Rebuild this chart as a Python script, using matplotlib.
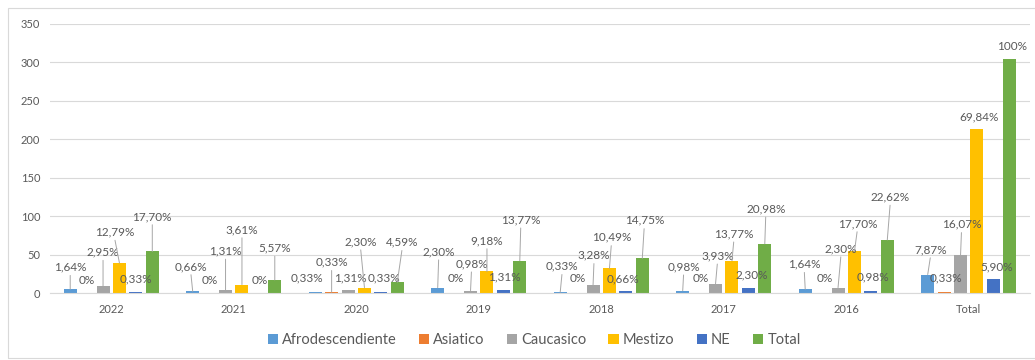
import numpy as np
import matplotlib.pyplot as plt
from matplotlib.patches import Rectangle

plt.rcParams['font.family'] = ['Lato', 'DejaVu Sans']

categories = ['2022', '2021', '2020', '2019', '2018', '2017', '2016', 'Total']
afro = [5, 2, 1, 7, 1, 3, 5, 24]
asiatico = [0, 0, 1, 0, 0, 0, 0, 1]
caucasico = [9, 4, 4, 3, 10, 12, 7, 49]
mestizo = [39, 11, 7, 28, 32, 42, 54, 213]
ne = [1, 0, 1, 4, 2, 7, 3, 18]
total = [54, 17, 14, 42, 45, 64, 69, 305]

series_names = ['Afrodescendiente', 'Asiatico', 'Caucasico', 'Mestizo', 'NE', 'Total']
series_vals = [afro, asiatico, caucasico, mestizo, ne, total]
colors = ['#5B9BD5', '#ED7D31', '#A5A5A5', '#FFC000', '#4472C4', '#70AD47']

# label placement (dx, dy in pixels from bar top, leader line yes/no)
label_pos = [
    [(0, 22, 1), (-2, 25, 1), (-8, 14, 0), (1, 36, 1), (2, 26, 1), (1, 24, 1), (-1, 25, 1), (3, 25, 1)],
    [(0, 13, 0), (1, 13, 0), (0, 30, 1), (2, 14, 0), (1, 14, 0), (2, 14, 0), (3, 14, 0), (2, 14, 0)],
    [(0, 34, 1), (0, 39, 1), (2, 12, 0), (1, 27, 1), (1, 30, 1), (2, 28, 1), (3, 39, 1), (1, 31, 1)],
    [(-5, 31, 1), (0, 55, 1), (-4, 46, 1), (0, 31, 1), (2, 31, 1), (2, 27, 1), (3, 28, 1), (2, 12, 0)],
    [(0, 13, 0), (1, 13, 0), (3, 14, 0), (1, 13, 0), (-3, 13, 0), (3, 13, 0), (2, 14, 0), (3, 12, 0)],
    [(0, 35, 1), (0, 32, 1), (5, 40, 1), (1, 41, 1), (2, 38, 1), (1, 35, 1), (3, 43, 1), (2, 12, 0)],
]

grand = total[-1]


def fmt(v):
    if v == 0:
        return '0%'
    p = v / grand * 100
    if round(p, 2) == 100:
        return '100%'
    return f'{p:.2f}'.replace('.', ',') + '%'


fig = plt.figure(figsize=(10.35, 3.6), dpi=100)
ax = fig.add_axes([50 / 1035, 67 / 360, 980 / 1035, 269 / 360])

x = np.arange(len(categories))
slot = 0.134
width = 0.106
txt_color = '#595959'

for i, (name, vals, c) in enumerate(zip(series_names, series_vals, colors)):
    xs = x + (i - 2.5) * slot
    ax.bar(xs, vals, width, color=c, label=name, zorder=2)
    for j, (xx, v) in enumerate(zip(xs, vals)):
        dx, dy, lead = label_pos[i][j]
        props = None
        if lead:
            props = dict(arrowstyle='-', color='#A6A6A6', lw=0.7,
                         shrinkA=0, shrinkB=0, relpos=(0.5, 0))
        ax.annotate(fmt(v), xy=(xx, v), xytext=(dx, dy), textcoords='offset pixels',
                    ha='center', va='center', fontsize=8.5, color=txt_color,
                    arrowprops=props, zorder=3)

ax.set_xlim(-0.5, len(categories) - 0.5)
ax.set_ylim(0, 350)
ax.set_yticks(np.arange(0, 351, 50))
ax.set_xticks(x)
ax.set_xticklabels(categories)
ax.yaxis.grid(True, color='#D9D9D9', lw=0.8)
ax.set_axisbelow(True)
for s in ['top', 'right', 'left']:
    ax.spines[s].set_visible(False)
ax.spines['bottom'].set_color('#D9D9D9')
ax.tick_params(axis='both', length=0, labelcolor=txt_color, labelsize=8)
ax.tick_params(axis='y', pad=7)
ax.tick_params(axis='x', pad=8)

leg = ax.legend(loc='center', bbox_to_anchor=(0.516, 0.056), bbox_transform=fig.transFigure,
                ncol=6, frameon=False, fontsize=10.5, handlelength=0.7, handleheight=0.7,
                handletextpad=0.3, columnspacing=1.5)
for t in leg.get_texts():
    t.set_color(txt_color)

fig.patches.append(Rectangle((8 / 1035, 2 / 360), 1040 / 1035, 350 / 360,
                             transform=fig.transFigure, fill=False,
                             edgecolor='#D9D9D9', lw=0.8))

fig.savefig('out.png', dpi=100)
